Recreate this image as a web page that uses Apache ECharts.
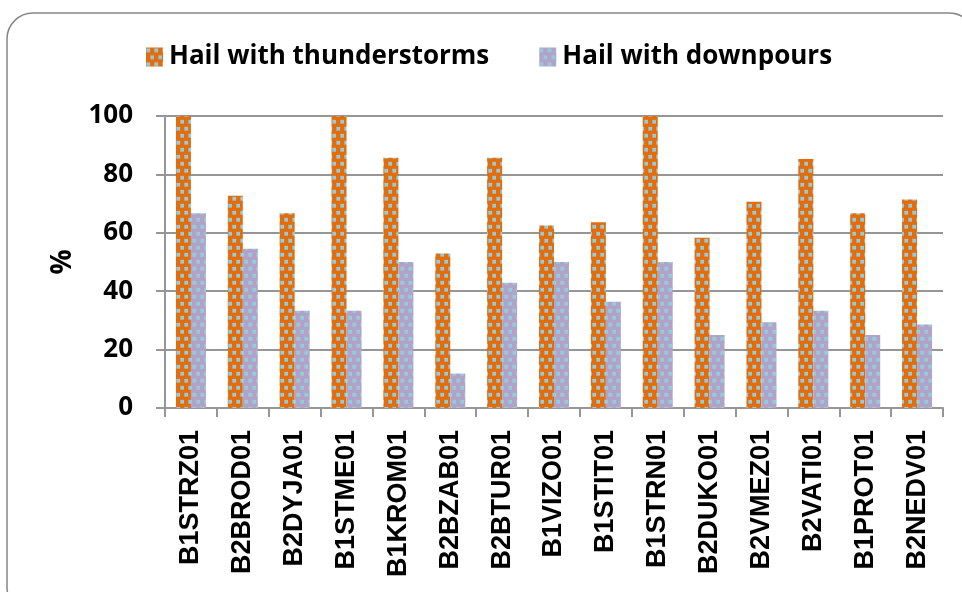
<!DOCTYPE html>
<html>
<head>
<meta charset="utf-8">
<script src="https://cdn.jsdelivr.net/npm/echarts@6/dist/echarts.min.js"></script>
<style>
  html, body { margin: 0; padding: 0; background: #fff; }
  #chart { width: 962px; height: 592px; }
</style>
</head>
<body>
<div id="chart"></div>
<script>
// Station codes along the x axis
const stations = ['B1STRZ01', 'B2BROD01', 'B2DYJA01', 'B1STME01', 'B1KROM01', 'B2BZAB01', 'B2BTUR01',
  'B1VIZO01', 'B1STIT01', 'B1STRN01', 'B2DUKO01', 'B2VMEZ01', 'B2VATI01', 'B1PROT01', 'B2NEDV01'];

// Share of hail cases (%) accompanied by each phenomenon
const hailThunder = [100, 72.7, 66.7, 100, 85.7, 52.9, 85.7, 62.5, 63.6, 100, 58.3, 70.6, 85.3, 66.7, 71.4];
const hailDownpour = [66.7, 54.5, 33.3, 33.3, 50, 11.8, 42.9, 50, 36.4, 50, 25, 29.4, 33.3, 25, 28.6];

const seriesNames = ['Hail with thunderstorms', 'Hail with downpours'];
const yTicks = { min: 0, max: 100, step: 20 };

// Confetti-style fill: base colour with soft light-blue squares
function confetti(base) {
  const c = document.createElement('canvas');
  c.width = 8; c.height = 14;
  const g = c.getContext('2d');
  g.fillStyle = base;
  g.fillRect(0, 0, 8, 14);
  const dot = (x, y) => {
    g.fillStyle = 'rgba(147,205,221,0.3)';
    g.fillRect(x - 0.5, y - 0.5, 4.5, 4.5);
    g.fillStyle = '#93CDDD';
    g.fillRect(x, y, 3.5, 3.5);
  };
  dot(0.5, 1);
  dot(4.5, 8);
  return { image: c, repeat: 'repeat' };
}

const orangeFill = confetti('#E46C0A');
const purpleFill = confetti('#B3A2C7');

const chart = echarts.init(document.getElementById('chart'), null, { renderer: 'canvas' });

const labelFont = '"Open Sans", Lato, sans-serif';

chart.setOption({
  animation: false,
  backgroundColor: '#fff',
  graphic: [{
    type: 'rect',
    shape: { x: 7, y: 13, width: 968, height: 600, r: 26 },
    style: { fill: 'none', stroke: '#868686', lineWidth: 1.5 },
    z: 0
  }],
  legend: {
    left: 141,
    top: 39,
    itemWidth: 17,
    itemHeight: 19,
    itemGap: 50,
    icon: 'rect',
    textStyle: {
      fontFamily: labelFont,
      fontWeight: 'bold',
      fontSize: 26,
      color: '#000',
      padding: [0, 0, 0, 1]
    },
    data: seriesNames
  },
  grid: { left: 165, right: 19, top: 116, bottom: 184, containLabel: false },
  xAxis: {
    type: 'category',
    data: stations,
    axisLine: { lineStyle: { color: '#969696', width: 2 } },
    axisTick: { show: true, length: 9, lineStyle: { color: '#969696', width: 2 } },
    axisLabel: {
      rotate: 90,
      interval: 0,
      margin: 22,
      fontFamily: '"Liberation Sans", Arial, sans-serif',
      fontWeight: 'bold',
      fontSize: 27,
      color: '#000'
    }
  },
  yAxis: {
    type: 'value',
    min: yTicks.min,
    max: yTicks.max,
    interval: yTicks.step,
    name: '%',
    nameLocation: 'middle',
    nameRotate: 90,
    nameGap: 88,
    nameTextStyle: { fontFamily: labelFont, fontWeight: 'bold', fontSize: 28, color: '#000' },
    axisLine: { show: true, lineStyle: { color: '#969696', width: 2 } },
    axisTick: { show: true, length: 9, lineStyle: { color: '#969696', width: 2 } },
    splitLine: { lineStyle: { color: '#969696', width: 2 } },
    axisLabel: {
      margin: 32,
      fontFamily: labelFont,
      fontWeight: 'bold',
      fontSize: 26,
      color: '#000'
    }
  },
  series: [
    {
      name: seriesNames[0],
      type: 'bar',
      data: hailThunder,
      barWidth: 15,
      barGap: '0%',
      itemStyle: { color: orangeFill },
      z: 3
    },
    {
      name: seriesNames[1],
      type: 'bar',
      data: hailDownpour,
      barWidth: 15,
      barGap: '0%',
      itemStyle: { color: purpleFill },
      z: 3
    }
  ]
});
</script>
</body>
</html>
